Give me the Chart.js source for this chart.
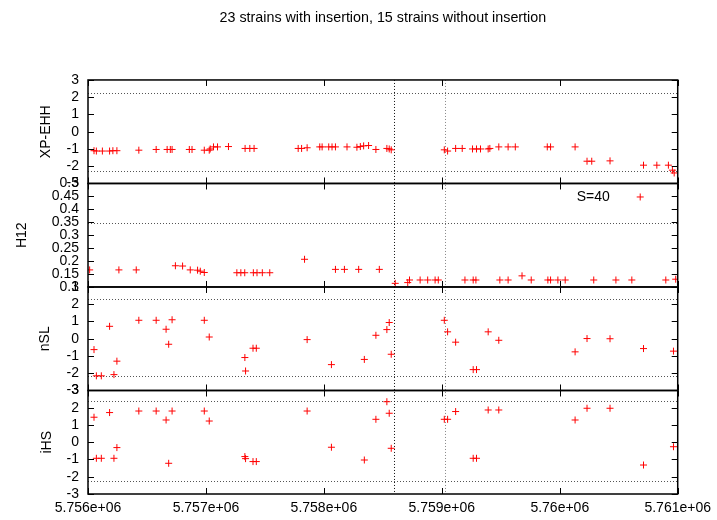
<!DOCTYPE html>
<html>
<head>
<meta charset="utf-8">
<script src="https://cdn.jsdelivr.net/npm/chart.js@4/dist/chart.umd.min.js"></script>
<style>
  html, body { margin: 0; padding: 0; background: #fff; }
</style>
</head>
<body>
<canvas id="chart" width="717" height="520"></canvas>
<script>
// XP-EHH scores
const xpehhPos = [5756051, 5756071, 5756122, 5756183, 5756211, 5756245, 5756431, 5756578, 5756671, 5756698,
  5756713, 5756859, 5756882, 5756986, 5757028, 5757036, 5757064, 5757098, 5757191, 5757332,
  5757372, 5757408, 5757782, 5757811, 5757858, 5757965, 5757985, 5758041, 5758069, 5758098,
  5758196, 5758280, 5758309, 5758337, 5758379, 5758441, 5758534, 5758554, 5758571, 5759021,
  5759049, 5759117, 5759173, 5759260, 5759294, 5759328, 5759393, 5759407, 5759483, 5759562,
  5759623, 5759894, 5759922, 5760130, 5760231, 5760271, 5760426, 5760710, 5760823, 5760921,
  5760955, 5760970];
const xpehhVal = [-1.10, -1.12, -1.12, -1.12, -1.10, -1.10, -1.07, -1.03, -1.03, -1.03,
  -1.03, -1.03, -1.03, -1.07, -1.07, -1.00, -0.88, -0.88, -0.86, -0.97,
  -0.97, -0.97, -0.97, -0.97, -0.93, -0.88, -0.88, -0.88, -0.88, -0.88,
  -0.88, -0.90, -0.86, -0.82, -0.80, -1.03, -0.97, -1.00, -1.05, -1.05,
  -1.12, -0.97, -0.97, -1.00, -1.00, -1.00, -1.00, -0.97, -0.88, -0.88,
  -0.88, -0.88, -0.88, -0.88, -1.71, -1.71, -1.69, -1.94, -1.94, -1.94,
  -2.23, -2.39];

// H12 windows
const h12Pos = [5756014, 5756262, 5756409, 5756741, 5756802, 5756867, 5756929, 5756952, 5756986, 5757262,
  5757296, 5757329, 5757402, 5757433, 5757478, 5757541, 5757836, 5758098, 5758174, 5758295,
  5758470, 5758605, 5758711, 5758726, 5758816, 5758880, 5758943, 5758970, 5759196, 5759266,
  5759289, 5759492, 5759562, 5759680, 5759758, 5759899, 5759922, 5759984, 5760046, 5760288,
  5760476, 5760611, 5760899, 5760983];
const h12Val = [0.166, 0.166, 0.166, 0.182, 0.181, 0.166, 0.165, 0.161, 0.156, 0.155,
  0.155, 0.155, 0.155, 0.155, 0.155, 0.155, 0.207, 0.168, 0.168, 0.168,
  0.168, 0.114, 0.117, 0.127, 0.127, 0.127, 0.127, 0.127, 0.127, 0.127,
  0.127, 0.127, 0.127, 0.143, 0.127, 0.127, 0.127, 0.127, 0.127, 0.127,
  0.127, 0.127, 0.127, 0.130];
const h12Label = 'S=40';

// nSL and iHS share the same SNPs
const snpPos = [5756051, 5756071, 5756113, 5756183, 5756220, 5756245, 5756431, 5756578, 5756662, 5756684,
  5756713, 5756986, 5757028, 5757330, 5757336, 5757399, 5757427, 5757858, 5758064, 5758343,
  5758441, 5758534, 5758554, 5758571, 5759021, 5759049, 5759117, 5759266, 5759294, 5759393,
  5759483, 5760130, 5760231, 5760426, 5760710, 5760964];
const nslVal = [-0.63, -2.15, -2.15, 0.72, -2.08, -1.30, 1.07, 1.07, 0.55, -0.32,
  1.10, 1.07, 0.10, -1.09, -1.87, -0.55, -0.55, -0.05, -1.50, -1.20,
  0.20, 0.53, 0.94, -0.90, 1.07, 0.40, -0.20, -1.79, -1.79, 0.40,
  -0.09, -0.76, 0.01, 0.00, -0.57, -0.72];
const ihsVal = [1.45, -0.93, -0.93, 1.72, -0.93, -0.31, 1.81, 1.81, 1.29, -1.22,
  1.81, 1.81, 1.23, -0.83, -0.95, -1.12, -1.12, 1.81, -0.29, -1.03,
  1.33, 2.35, 1.68, -0.35, 1.33, 1.33, 1.78, -0.93, -0.93, 1.87,
  1.87, 1.29, 1.97, 1.97, -1.32, -0.26];

// cutoff lines and marked positions
const xpehhCut = [2.27, -2.25];
const h12Cut = [0.347];
const nslCut = [2.3, -2.15];
const ihsCut = [2.39, -2.26];
const markPos = [5758596, 5759027];

// axis ranges
const xRange = [5756000, 5761000];
const xStep = 1000;
const scoreRange = [-3, 3];
const h12Range = [0.1, 0.5];

const FONT = '"Liberation Sans", Arial, Helvetica, sans-serif';
Chart.defaults.font.family = FONT;
Chart.defaults.font.size = 14;
Chart.defaults.color = '#000';

function toPoints(xs, ys) {
  return xs.map((x, i) => ({ x: x, y: ys[i] }));
}

// gnuplot style 5.756e+06
function sciLabel(value) {
  const parts = Number(value).toExponential(3).split('e');
  const exp = parts[1][0] + parts[1].slice(1).padStart(2, '0');
  return parseFloat(parts[0]) + 'e' + exp;
}

// plain %g style, no trailing zeros
function plainLabel(value) {
  return String(parseFloat(Number(value).toFixed(2)));
}

function panelScale(title, range, step, titlePad) {
  return {
    type: 'linear',
    position: 'left',
    stack: 'panels',
    stackWeight: 1,
    min: range[0],
    max: range[1],
    ticks: { stepSize: step, padding: 9, autoSkip: false, callback: plainLabel },
    grid: { display: false, drawTicks: false },
    border: { display: false },
    title: { display: true, text: title, padding: { top: titlePad, bottom: 0 } },
    afterFit: s => { s.width = 88; }
  };
}

function scatterSet(label, data, axis) {
  return {
    type: 'scatter',
    label: label,
    data: data,
    yAxisID: axis,
    pointStyle: 'cross',
    pointRadius: 3.5,
    pointBorderWidth: 1,
    borderColor: '#ff0000',
    backgroundColor: '#ff0000'
  };
}

// which cutoffs belong to which panel
const panels = [
  { axis: 'yXP', cuts: xpehhCut },
  { axis: 'yH12', cuts: h12Cut },
  { axis: 'yNSL', cuts: nslCut },
  { axis: 'yIHS', cuts: ihsCut }
];

const panelDecor = {
  id: 'panelDecor',
  beforeDatasetsDraw(chart) {
    const { ctx, chartArea: area, scales } = chart;
    ctx.save();
    ctx.lineWidth = 1;
    ctx.setLineDash([1, 2]);
    ctx.strokeStyle = '#555';
    panels.forEach(p => {
      const s = scales[p.axis];
      p.cuts.forEach(v => {
        const y = Math.round(s.getPixelForValue(v)) + 0.5;
        ctx.beginPath();
        ctx.moveTo(area.left, y);
        ctx.lineTo(area.right, y);
        ctx.stroke();
      });
    });
    markPos.forEach((v, i) => {
      const x = Math.round(scales.x.getPixelForValue(v)) + 0.5;
      ctx.strokeStyle = i === 0 ? '#111' : '#888';
      ctx.beginPath();
      ctx.moveTo(x, area.top);
      ctx.lineTo(x, area.bottom);
      ctx.stroke();
    });
    ctx.restore();
  },
  afterDatasetsDraw(chart) {
    const { ctx, chartArea: area, scales } = chart;
    const xs = scales.x;
    const tick = 6;
    ctx.save();
    ctx.strokeStyle = '#000';
    ctx.lineWidth = 1;
    panels.forEach(p => {
      const s = scales[p.axis];
      // x ticks top and bottom of each panel
      xs.ticks.forEach(t => {
        const x = Math.round(xs.getPixelForValue(t.value)) + 0.5;
        ctx.beginPath();
        ctx.moveTo(x, s.top);
        ctx.lineTo(x, s.top + tick);
        ctx.moveTo(x, s.bottom);
        ctx.lineTo(x, s.bottom - tick);
        ctx.stroke();
      });
      // y ticks left and right
      s.ticks.forEach(t => {
        const y = Math.round(s.getPixelForValue(t.value)) + 0.5;
        ctx.beginPath();
        ctx.moveTo(area.left, y);
        ctx.lineTo(area.left + tick, y);
        ctx.moveTo(area.right, y);
        ctx.lineTo(area.right - tick, y);
        ctx.stroke();
      });
    });
    ctx.lineWidth = 1.5;
    panels.forEach(p => {
      const s = scales[p.axis];
      ctx.strokeRect(area.left, s.top, area.right - area.left, s.bottom - s.top);
    });

    // key inside the H12 panel
    const h = scales.yH12;
    const ky = h.top + 13.5;
    ctx.fillStyle = '#000';
    ctx.font = '14px ' + FONT;
    ctx.textAlign = 'right';
    ctx.textBaseline = 'middle';
    ctx.fillText(h12Label, area.right - 68, ky);
    const kx = area.right - 37.5;
    ctx.strokeStyle = '#ff0000';
    ctx.lineWidth = 1;
    ctx.beginPath();
    ctx.moveTo(kx - 3.5, ky);
    ctx.lineTo(kx + 3.5, ky);
    ctx.moveTo(kx, ky - 3.5);
    ctx.lineTo(kx, ky + 3.5);
    ctx.stroke();
    ctx.restore();
  }
};

const config = {
  type: 'scatter',
  data: {
    datasets: [
      scatterSet('XP-EHH', toPoints(xpehhPos, xpehhVal), 'yXP'),
      scatterSet(h12Label, toPoints(h12Pos, h12Val), 'yH12'),
      scatterSet('nSL', toPoints(snpPos, nslVal), 'yNSL'),
      scatterSet('iHS', toPoints(snpPos, ihsVal), 'yIHS')
    ]
  },
  options: {
    responsive: false,
    animation: false,
    layout: { padding: { left: 0, right: 37, top: 0, bottom: 0 } },
    plugins: {
      legend: { display: false },
      tooltip: { enabled: false },
      title: {
        display: true,
        fullSize: false,
        text: '23 strains with insertion, 15 strains without insertion',
        font: { size: 14.3, weight: 'normal' },
        color: '#000',
        padding: { top: 9, bottom: 53.8 }
      }
    },
    scales: {
      x: {
        type: 'linear',
        position: 'bottom',
        min: xRange[0],
        max: xRange[1],
        ticks: { stepSize: xStep, padding: 6, autoSkip: false, maxRotation: 0, callback: sciLabel },
        grid: { display: false, drawTicks: false },
        border: { display: false },
        afterFit: s => { s.height = 26; }
      },
      // stacked left axes: last one defined ends up on top
      yIHS: panelScale('iHS', scoreRange, 1, 38.5),
      yNSL: panelScale('nSL', scoreRange, 1, 37),
      yH12: panelScale('H12', h12Range, 0.05, 13.5),
      yXP: panelScale('XP-EHH', scoreRange, 1, 38)
    }
  },
  plugins: [panelDecor]
};

document.addEventListener('DOMContentLoaded', () => {
  new Chart(document.getElementById('chart'), config);
});
</script>
</body>
</html>
